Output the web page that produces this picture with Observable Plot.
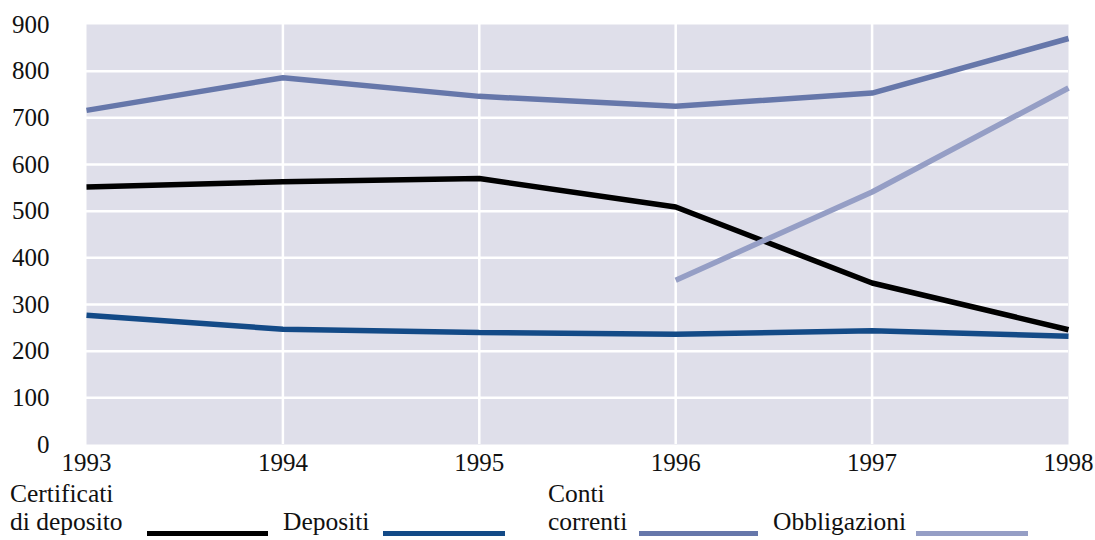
<!DOCTYPE html>
<html>
<head>
<meta charset="utf-8">
<script src="https://cdn.jsdelivr.net/npm/d3@7"></script>
<script src="https://cdn.jsdelivr.net/npm/@observablehq/plot@0.6"></script>
<style>
  html, body { margin: 0; padding: 0; background: #fff; }
  #wrap { position: relative; width: 1095px; height: 540px; overflow: hidden; font-family: "Liberation Serif", serif; }
  #legend { position: absolute; left: 0; top: 480px; width: 1095px; height: 60px; }
  .lt { position: absolute; font-size: 25.5px; line-height: 28px; color: #111; white-space: nowrap; bottom: 4px; }
  .lt div { height: 28px; }
  .sw { position: absolute; height: 5px; top: 51px; }
</style>
</head>
<body>
<div id="wrap">
  <div id="chart"></div>
  <div id="legend"></div>
</div>
<script>
const years = [1993, 1994, 1995, 1996, 1997, 1998];
const certificati = [552, 563, 570, 509, 346, 246];
const depositi = [277, 247, 240, 236, 244, 232];
const contiCorrenti = [716, 786, 746, 725, 753, 870];
const obbligazioni = [null, null, null, 352, 541, 764];
const seriesNames = ["Certificati di deposito", "Depositi", "Conti correnti", "Obbligazioni"];
const seriesLabels = [["Certificati", "di deposito"], ["Depositi"], ["Conti", "correnti"], ["Obbligazioni"]];
const seriesColors = ["#000000", "#134a87", "#6677aa", "#959ec5"];
const yTicks = [0, 100, 200, 300, 400, 500, 600, 700, 800, 900];

const allSeries = [certificati, depositi, contiCorrenti, obbligazioni];
const rows = [];
allSeries.forEach((vals, i) => {
  years.forEach((yr, j) => {
    if (vals[j] != null) rows.push({serie: seriesNames[i], year: yr, value: vals[j]});
  });
});

const chart = Plot.plot({
  width: 1095,
  height: 480,
  marginTop: 24,
  marginBottom: 36,
  marginLeft: 86,
  marginRight: 27,
  style: {fontFamily: "'Liberation Serif', serif", fontSize: "25px", color: "#111", background: "transparent"},
  x: {domain: [1993, 1998], ticks: years, tickFormat: d => String(d), tickSize: 0, tickPadding: 9, label: null},
  y: {domain: [0, 900], ticks: yTicks, tickSize: 0, tickPadding: 37, label: null},
  color: {domain: seriesNames, range: seriesColors},
  marks: [
    Plot.frame({fill: "#dfdfea", stroke: null}),
    Plot.gridY(yTicks.slice(1, -1), {stroke: "#fff", strokeOpacity: 1, strokeWidth: 2.5}),
    Plot.gridX(years.slice(1, -1), {stroke: "#fff", strokeOpacity: 1, strokeWidth: 2.5}),
    Plot.line(rows, {x: "year", y: "value", z: "serie", stroke: "serie", strokeWidth: 5.5, strokeLinejoin: "miter", strokeLinecap: "butt"})
  ]
});
document.getElementById("chart").appendChild(chart);

// legend layout (pixel positions of text and swatch per item)
const legendLayout = [
  {text: 10, sw: [147, 268]},
  {text: 283, sw: [383, 505]},
  {text: 548, sw: [639, 758]},
  {text: 773, sw: [916, 1028]}
];
const legend = document.getElementById("legend");
seriesNames.forEach((name, i) => {
  const t = document.createElement("div");
  t.className = "lt";
  t.style.left = legendLayout[i].text + "px";
  seriesLabels[i].forEach(line => {
    const l = document.createElement("div");
    l.textContent = line;
    t.appendChild(l);
  });
  legend.appendChild(t);
  const s = document.createElement("div");
  s.className = "sw";
  s.style.left = legendLayout[i].sw[0] + "px";
  s.style.width = (legendLayout[i].sw[1] - legendLayout[i].sw[0]) + "px";
  s.style.background = seriesColors[i];
  legend.appendChild(s);
});
</script>
</body>
</html>
